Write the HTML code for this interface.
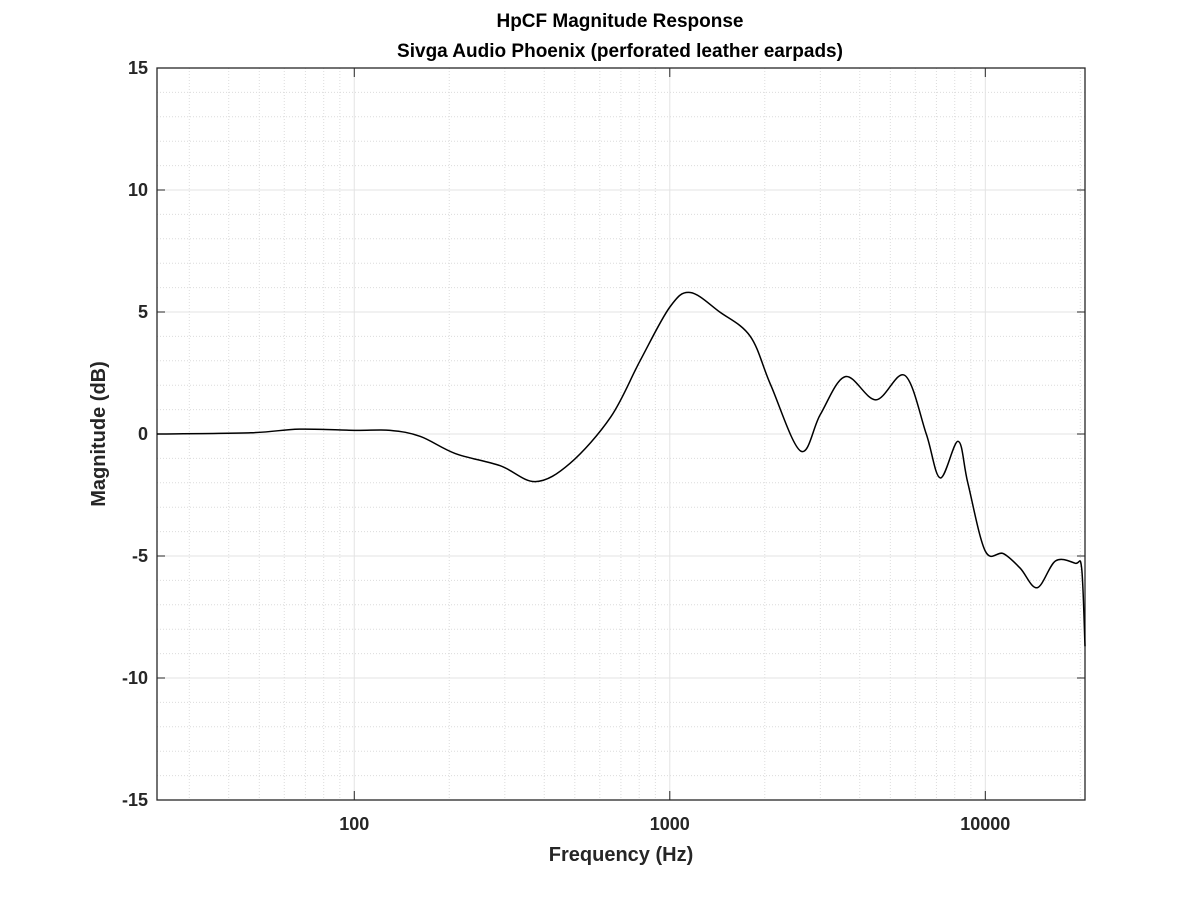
<!DOCTYPE html>
<html><head><meta charset="utf-8"><style>
body{margin:0;background:#fff;}
svg{display:block;font-family:"Liberation Sans",Arial,sans-serif;}
</style></head><body>
<svg id="chart" width="1199" height="899">
<rect x="0" y="0" width="1199" height="899" fill="#fff"/>
<g id="grid"></g>
<g id="axes"></g>
<path id="curve" fill="none" stroke="#000" stroke-width="1.5"/>
<text x="620" y="27" text-anchor="middle" font-size="19" font-weight="bold" fill="#000">HpCF Magnitude Response</text>
<text x="620" y="57" text-anchor="middle" font-size="19" font-weight="bold" fill="#000">Sivga Audio Phoenix (perforated leather earpads)</text>
<text x="621" y="861" text-anchor="middle" font-size="20" font-weight="bold" fill="#262626">Frequency (Hz)</text>
<text transform="translate(105,434) rotate(-90)" text-anchor="middle" font-size="20" font-weight="bold" fill="#262626">Magnitude (dB)</text>
</svg>
<script>
const freqs = [23.7, 47, 67, 100, 130, 162, 209, 290, 375, 483, 650, 805, 1000, 1160, 1440, 1800, 2090, 2600, 3000, 3600, 4500, 5560, 6500, 7200, 8200, 8800, 10000, 11400, 12900, 14600, 16700, 19300, 20200, 20700];
const mags  = [0, 0.05, 0.2, 0.15, 0.15, -0.1, -0.8, -1.3, -1.95, -1.2, 0.7, 3.0, 5.2, 5.8, 5.0, 4.0, 2.0, -0.7, 0.8, 2.35, 1.4, 2.4, 0.0, -1.8, -0.3, -2.0, -4.8, -4.9, -5.5, -6.3, -5.2, -5.3, -5.5, -8.7];
const yTicks = [15, 10, 5, 0, -5, -10, -15];
const xTicks = [100, 1000, 10000];
const L=157,R=1085,T=68,B=800;
const fMin=23.7,fMax=20700,yMin=-15,yMax=15;
const X=f=>L+(Math.log10(f)-Math.log10(fMin))/(Math.log10(fMax)-Math.log10(fMin))*(R-L);
const Y=v=>B-(v-yMin)/(yMax-yMin)*(B-T);
const NS="http://www.w3.org/2000/svg";
const grid=document.getElementById('grid'),axes=document.getElementById('axes');
function ln(p,x1,y1,x2,y2,c,d,w){const e=document.createElementNS(NS,'line');e.setAttribute('x1',x1);e.setAttribute('y1',y1);e.setAttribute('x2',x2);e.setAttribute('y2',y2);e.setAttribute('stroke',c);e.setAttribute('stroke-width',w||1);if(d)e.setAttribute('stroke-dasharray',d);p.appendChild(e);return e;}
for(let v=yMin;v<=yMax;v++){if(v%5===0)continue;const g=ln(grid,L,Y(v),R,Y(v),'#dcdcdc','1,2');

}
for(let d=10;d<=10000;d*=10){for(let m=2;m<=9;m++){const f=d*m;if(f<fMin||f>fMax)continue;const g=ln(grid,X(f),T,X(f),B,'#dcdcdc','1,2');

}}
yTicks.forEach(v=>{const g=ln(grid,L,Y(v),R,Y(v),'#e3e3e3');


ln(axes,L,Y(v),L+8,Y(v),'#262626');ln(axes,R,Y(v),R-8,Y(v),'#262626');
const t=document.createElementNS(NS,'text');t.setAttribute('x',L-9);t.setAttribute('y',Y(v)+6);t.setAttribute('text-anchor','end');t.setAttribute('font-size','18');t.setAttribute('font-weight','bold');t.setAttribute('fill','#262626');t.textContent=v;


axes.appendChild(t);});
xTicks.forEach(f=>{const g=ln(grid,X(f),T,X(f),B,'#e3e3e3');


ln(axes,X(f),B,X(f),B-9,'#262626');ln(axes,X(f),T,X(f),T+9,'#262626');
const t=document.createElementNS(NS,'text');t.setAttribute('x',X(f));t.setAttribute('y',B+30);t.setAttribute('text-anchor','middle');t.setAttribute('font-size','18');t.setAttribute('font-weight','bold');t.setAttribute('fill','#262626');t.textContent=f;


axes.appendChild(t);});
const box=document.createElementNS(NS,'rect');box.setAttribute('x',L);box.setAttribute('y',T);box.setAttribute('width',R-L);box.setAttribute('height',B-T);box.setAttribute('fill','none');box.setAttribute('stroke','#262626');box.setAttribute('stroke-width','1.3');


axes.appendChild(box);
const pts=freqs.map((f,i)=>[X(f),Y(mags[i])]);
let d='M'+pts[0][0]+','+pts[0][1];
for(let i=0;i<pts.length-1;i++){const p0=pts[Math.max(0,i-1)],p1=pts[i],p2=pts[i+1],p3=pts[Math.min(pts.length-1,i+2)];
const c1=[p1[0]+(p2[0]-p0[0])/6,p1[1]+(p2[1]-p0[1])/6],c2=[p2[0]-(p3[0]-p1[0])/6,p2[1]-(p3[1]-p1[1])/6];
d+=' C'+c1+' '+c2+' '+p2;}
document.getElementById('curve').setAttribute('d',d);
</script>
</body></html>
